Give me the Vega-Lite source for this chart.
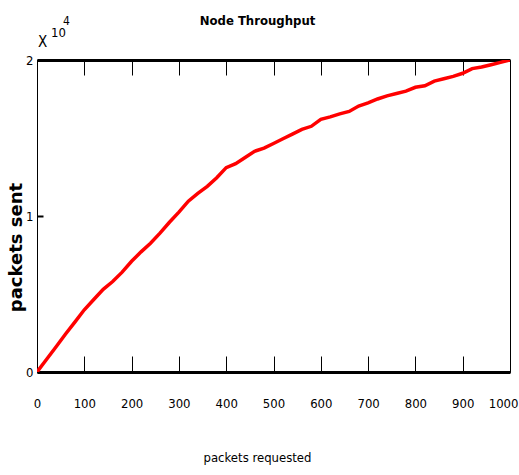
{
  "$schema": "https://vega.github.io/schema/vega-lite/v6.json",
  "width": 473,
  "height": 312,
  "autosize": {"type": "none"},
  "padding": {"left": 37, "top": 60, "right": 9, "bottom": 103},
  "background": "white",
  "config": {
    "view": {"stroke": "black", "strokeWidth": 1},
    "axis": {"grid": false, "labelColor": "black", "titleColor": "black", "domainColor": "black", "tickColor": "black"}
  },
  "title": {
    "text": "Node Throughput",
    "font": "DejaVu Sans Condensed, DejaVu Sans",
    "fontSize": 13,
    "fontWeight": "bold",
    "color": "black",
    "anchor": "middle",
    "dx": -16,
    "offset": 0,
    "dy": 13
  },
  "layer": [
    {
      "data": {"values": [
        {"requested": 0, "sent": 0},
        {"requested": 20, "sent": 800},
        {"requested": 40, "sent": 1600},
        {"requested": 60, "sent": 2420},
        {"requested": 80, "sent": 3200},
        {"requested": 100, "sent": 3990},
        {"requested": 120, "sent": 4650},
        {"requested": 140, "sent": 5300},
        {"requested": 160, "sent": 5800},
        {"requested": 180, "sent": 6400},
        {"requested": 200, "sent": 7100},
        {"requested": 220, "sent": 7700},
        {"requested": 240, "sent": 8250},
        {"requested": 260, "sent": 8900},
        {"requested": 280, "sent": 9600},
        {"requested": 300, "sent": 10250},
        {"requested": 320, "sent": 10950},
        {"requested": 340, "sent": 11450},
        {"requested": 360, "sent": 11900},
        {"requested": 380, "sent": 12450},
        {"requested": 400, "sent": 13100},
        {"requested": 420, "sent": 13350},
        {"requested": 440, "sent": 13750},
        {"requested": 460, "sent": 14150},
        {"requested": 480, "sent": 14350},
        {"requested": 500, "sent": 14650},
        {"requested": 520, "sent": 14950},
        {"requested": 540, "sent": 15250},
        {"requested": 560, "sent": 15550},
        {"requested": 580, "sent": 15750},
        {"requested": 600, "sent": 16200},
        {"requested": 620, "sent": 16350},
        {"requested": 640, "sent": 16550},
        {"requested": 660, "sent": 16700},
        {"requested": 680, "sent": 17050},
        {"requested": 700, "sent": 17250},
        {"requested": 720, "sent": 17500},
        {"requested": 740, "sent": 17700},
        {"requested": 760, "sent": 17850},
        {"requested": 780, "sent": 18000},
        {"requested": 800, "sent": 18250},
        {"requested": 820, "sent": 18350},
        {"requested": 840, "sent": 18650},
        {"requested": 860, "sent": 18800},
        {"requested": 880, "sent": 18950},
        {"requested": 900, "sent": 19150},
        {"requested": 920, "sent": 19450},
        {"requested": 940, "sent": 19550},
        {"requested": 960, "sent": 19700},
        {"requested": 980, "sent": 19850},
        {"requested": 1000, "sent": 20000}
      ]},
      "mark": {"type": "line", "color": "#ff0000", "strokeWidth": 3.5, "clip": true},
      "encoding": {
        "x": {
          "field": "requested", "type": "quantitative",
          "scale": {"domain": [0, 1000], "nice": false},
          "axis": {
            "orient": "bottom",
            "values": [0, 100, 200, 300, 400, 500, 600, 700, 800, 900, 1000],
            "format": "d",
            "tickSize": -16, "tickWidth": 1,
            "domainWidth": 3,
            "labelPadding": 47,
            "labelBaseline": "middle",
            "labelAlign": {"condition": {"test": "datum.value == 1000", "value": "right"}, "value": "center"},
            "labelOffset": {"condition": {"test": "datum.value == 1000", "value": 8}, "value": 0},
            "labelFont": "DejaVu Sans Condensed, DejaVu Sans",
            "labelFontSize": 13,
            "title": "packets requested",
            "titleFont": "DejaVu Sans Condensed, DejaVu Sans",
            "titleFontSize": 13,
            "titleFontWeight": "normal",
            "titleBaseline": "alphabetic",
            "titleX": 220,
            "titleY": 89
          }
        },
        "y": {
          "field": "sent", "type": "quantitative",
          "scale": {"domain": [0, 20000], "nice": false},
          "axis": {
            "orient": "left",
            "values": [0, 10000, 20000],
            "labelExpr": "datum.value / 10000",
            "tickSize": -6, "tickWidth": 2,
            "domainWidth": 1,
            "labelPadding": 10,
            "labelFont": "DejaVu Sans Condensed, DejaVu Sans",
            "labelFontSize": 13,
            "title": "packets sent",
            "titleFont": "DejaVu Sans",
            "titleFontSize": 18,
            "titleFontWeight": "bold",
            "titleBaseline": "alphabetic",
            "titleX": -16,
            "titleY": 187
          }
        }
      }
    },
    {
      "data": {"values": [{"requested": 0, "sent": 20000, "t": "X"}]},
      "mark": {"type": "text", "align": "left", "baseline": "alphabetic", "dx": 1, "dy": -13, "fontSize": 15, "font": "DejaVu Sans Condensed, DejaVu Sans", "color": "black"},
      "encoding": {
        "x": {
          "field": "requested", "type": "quantitative",
          "axis": {
            "orient": "top",
            "values": [0, 100, 200, 300, 400, 500, 600, 700, 800, 900, 1000],
            "labels": false,
            "tickSize": -15, "tickWidth": 1,
            "domainWidth": 3,
            "title": null
          }
        },
        "y": {"field": "sent", "type": "quantitative", "axis": null},
        "text": {"field": "t"}
      }
    },
    {
      "data": {"values": [{"requested": 0, "sent": 20000, "t": "10"}]},
      "mark": {"type": "text", "align": "left", "baseline": "alphabetic", "dx": 14, "dy": -23, "fontSize": 13, "font": "DejaVu Sans Condensed, DejaVu Sans", "color": "black"},
      "encoding": {
        "x": {"field": "requested", "type": "quantitative", "axis": null},
        "y": {"field": "sent", "type": "quantitative", "axis": null},
        "text": {"field": "t"}
      }
    },
    {
      "data": {"values": [{"requested": 0, "sent": 20000, "t": "4"}]},
      "mark": {"type": "text", "align": "left", "baseline": "alphabetic", "dx": 26, "dy": -35, "fontSize": 12, "font": "DejaVu Sans Condensed, DejaVu Sans", "color": "black"},
      "encoding": {
        "x": {"field": "requested", "type": "quantitative", "axis": null},
        "y": {"field": "sent", "type": "quantitative", "axis": null},
        "text": {"field": "t"}
      }
    }
  ],
  "resolve": {"axis": {"x": "independent", "y": "independent"}}
}
